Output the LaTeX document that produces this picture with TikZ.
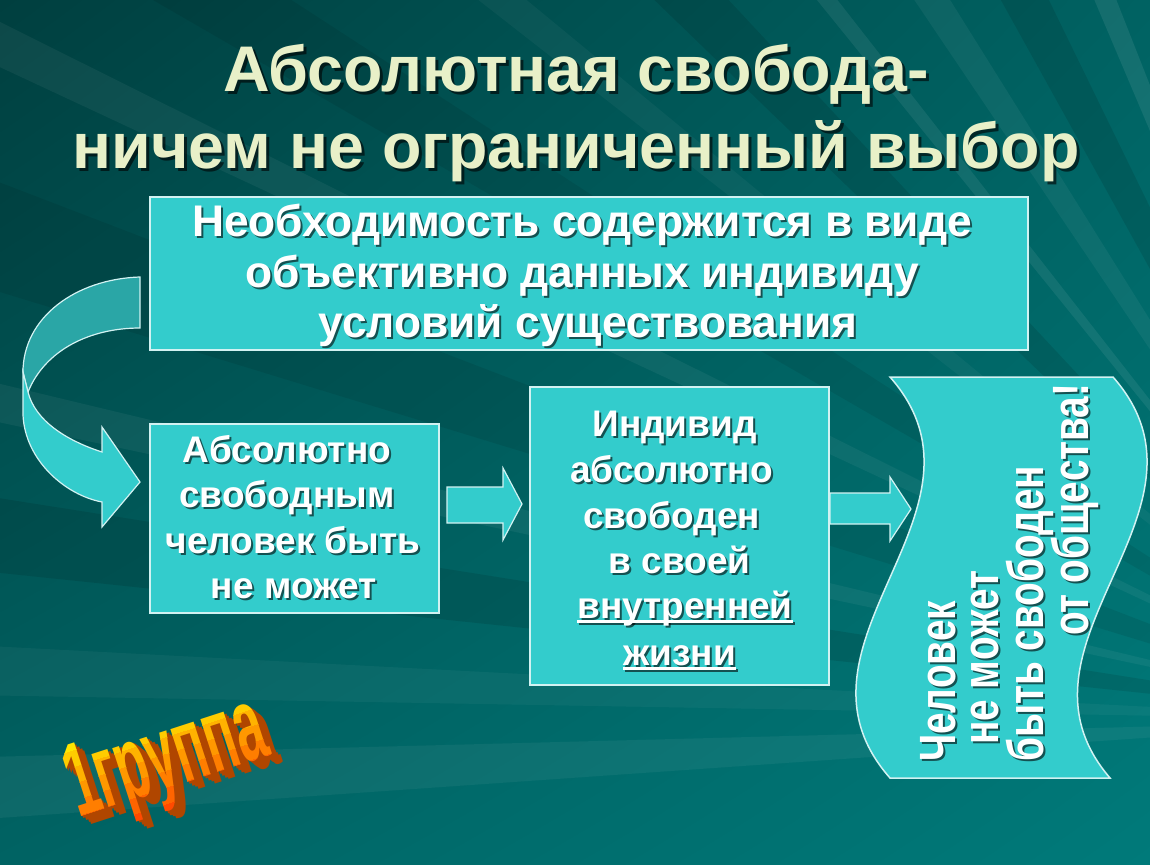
\documentclass[tikz,border=0pt]{standalone}
\usepackage{fontspec}
\setmainfont{Liberation Sans}
\usetikzlibrary{calc,shadings}
\definecolor{bgUL}{HTML}{003F3F}
\definecolor{bgUR}{HTML}{006262}
\definecolor{bgLL}{HTML}{006363}
\definecolor{bgLR}{HTML}{007A7A}
\definecolor{boxfill}{HTML}{33CCCC}
\definecolor{bandback}{HTML}{2AA6A6}
\definecolor{boxline}{HTML}{D2F2F2}
\definecolor{titlec}{HTML}{E8F0C8}
\definecolor{wtop}{HTML}{FFE600}
\definecolor{wbot}{HTML}{FF4A00}
\definecolor{wext}{HTML}{B04600}
\newcommand\myul[1]{\setbox0=\hbox{#1}\rlap{\rule[-5pt]{\wd0}{3pt}}\box0}
\newcommand\sline[6][2]{%
  \node[#3, text=black, opacity=.6] at (#4+#1,#5+#1) {#6};
  \node[#3] (#2) at (#4,#5) {#6};}
\tikzset{
 box/.style={draw=boxline, line width=1.5pt, fill=boxfill, inner sep=0pt},
 arr/.style={draw=boxline, line width=1.2pt, fill=boxfill},
 ttl/.style={font=\fontsize{64.5}{70}\selectfont\bfseries, text=titlec, anchor=base, inner sep=0pt},
 tbig/.style={font=\fontsize{44.3}{50}\selectfont\bfseries, text=white, anchor=base, inner sep=0pt},
 tmid/.style={font=\fontsize{37}{45}\selectfont\bfseries, text=white, anchor=base, inner sep=0pt},
 twv/.style={font=\fontsize{51}{51}\selectfont\bfseries, text=white, anchor=base west, rotate=90, xscale=0.76, inner sep=0pt},
 wa/.style={font=\fontsize{105}{105}\selectfont\bfseries, anchor=base west, xscale=0.5, inner sep=0pt},
}
\begin{document}
\begin{tikzpicture}[x=1pt,y=-1pt]
\useasboundingbox (0,0) rectangle (1150,864);
% background
\shade[upper left=bgUL, upper right=bgUR, lower left=bgLL, lower right=bgLR] (0,0) rectangle (1150,864);
\begin{scope}
\clip (0,0) rectangle (1150,864);
\foreach \a/\b/\c/\o in {176/178.5/white/.05, 181/183/white/.04, 186/189/black/.10,
  192/193.5/white/.05, 197/201/black/.08, 205/206.5/white/.05, 210/213/black/.08,
  218/219.5/white/.04, 224/227/black/.10, 231/232/white/.07, 236/238/white/.05,
  241/244/black/.10, 247/248.5/white/.08, 251/252/white/.06, 254/257/black/.08}{
  \fill[\c, opacity=\o] (1400,720) -- +(\a:2500) -- +(\b:2500) -- cycle;
}
\end{scope}
% title
\sline[3]{t1}{ttl}{576}{92}{Абсолютная свобода-}
\sline[3]{t2}{ttl}{576}{168}{ничем не ограниченный выбор}
% boxes
\node[box, minimum width=878pt, minimum height=153pt] (b1) at (589,273.5) {};
\node[box, minimum width=289pt, minimum height=189pt] (b2) at (294.5,518.5) {};
\node[box, minimum width=299pt, minimum height=298pt] (b3) at (679.5,536) {};
% wave
\draw[draw=boxline, line width=1.5pt, fill=boxfill] (890,377) -- (1113,377)
  .. controls (1231,511) and (995,644) .. (1110,778) -- (890,778)
  .. controls (772,644) and (1008,511) .. (890,377) -- cycle;
% curved arrow
\draw[draw=boxline, line width=1.2pt, fill=bandback] (140,277)
  .. controls (75,279) and (23,318) .. (23,372) -- (28,392)
  .. controls (45,350) and (90,328) .. (140,328) -- cycle;
\draw[arr] (23,372) -- (23,415) .. controls (25,460) and (65,495) .. (102,502)
  -- (102,527) -- (140,482) -- (102,427) -- (102,452)
  .. controls (65,440) and (35,420) .. (28,392) -- cycle;
% straight arrows
\draw[arr] (447,487) -- (503,487) -- (503,468) -- (522,504) -- (503,540) -- (503,523) -- (447,523) -- cycle;
\draw[arr] (830,493) -- (890,493) -- (890,477) -- (911,509) -- (890,541) -- (890,524) -- (830,524) -- cycle;
% texts top box
\sline{a1}{tbig}{582}{236}{Необходимость содержится в виде}
\sline{a2}{tbig}{582}{287}{объективно данных индивиду}
\sline{a3}{tbig}{588}{337}{условий существования}
% box 2
\sline{c1}{tmid}{287}{462}{Абсолютно}
\sline{c2}{tmid}{287}{507}{свободным}
\sline{c3}{tmid}{293}{553}{человек быть}
\sline{c4}{tmid}{294}{598}{не может}
% box 3
\sline{d1}{tmid}{674.5}{436}{Индивид}
\sline{d2}{tmid}{671.5}{482}{абсолютно}
\sline{d3}{tmid}{671.5}{528}{свободен}
\sline{d4}{tmid}{679.5}{573}{в своей}
\sline{d5}{tmid}{685}{618}{\myul{внутренней}}
\sline{d6}{tmid}{679.5}{665}{\myul{жизни}}
% wave text
\sline{v1}{twv}{955}{762}{Человек}
\sline{v2}{twv}{998}{745}{не может}
\sline{v3}{twv}{1043}{762}{быть свободен}
\sline{v4}{twv}{1088}{636}{от общества!}
% word art
\foreach \k in {12,9,6,3}{
  \begin{scope}[shift={(78+0.9*\k,818+0.6*\k)}, rotate=18, transform shape]
    \node[wa, text=wext] at (0,0) {1группа};
  \end{scope}
}
\begin{scope}[shift={(78,818)}, rotate=18, transform shape]
  \foreach \i in {0,...,6}{
    \pgfmathsetmacro\pa{-82+\i*16}
    \pgfmathsetmacro\pc{100-\i*100/6}
    \begin{scope}
      \clip (-10,\pa) rectangle (260,\pa+16.5);
      \node[wa, text=wtop!\pc!wbot] (wa\i) at (0,0) {1группа};
    \end{scope}
  }
\end{scope}
\end{tikzpicture}
\end{document}
